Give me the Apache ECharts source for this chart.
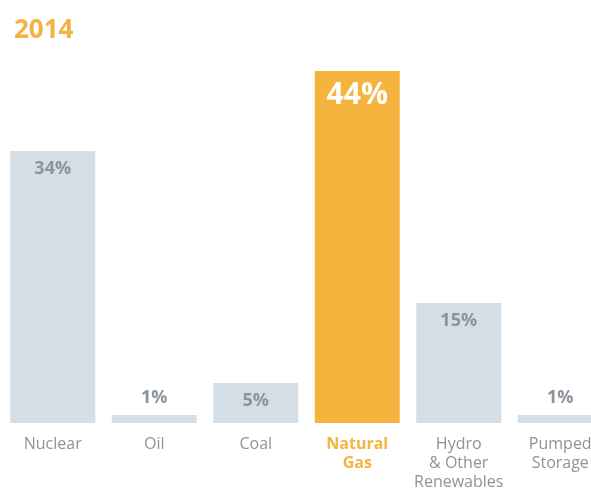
<!DOCTYPE html>
<html>
<head>
<meta charset="utf-8">
<script src="https://cdn.jsdelivr.net/npm/echarts@6/dist/echarts.min.js"></script>
<style>
  html, body { margin: 0; padding: 0; background: #ffffff; }
  #chart { width: 591px; height: 490px; }
</style>
</head>
<body>
<div id="chart"></div>
<script>
// Electricity generation mix, 2014 (share of total, %)
const categories = ['Nuclear', 'Oil', 'Coal', 'Natural\nGas', 'Hydro\n& Other\nRenewables', 'Pumped\nStorage'];
const shares = [34, 1, 5, 44, 15, 1];
const highlightIndex = 3;

const grey = '#d4dee6';
const orange = '#f5b43d';
const labelGrey = '#8b949c';

const chart = echarts.init(document.getElementById('chart'), null, { renderer: 'canvas' });

const data = shares.map((v, i) => {
  const hl = i === highlightIndex;
  const small = v < 3;
  return {
    value: v,
    itemStyle: { color: hl ? orange : grey },
    label: {
      show: true,
      position: small ? 'top' : 'insideTop',
      distance: small ? 8 : 9,
      formatter: '{c}%',
      color: hl ? '#ffffff' : labelGrey,
      fontSize: hl ? 30 : 18,
      fontWeight: 'bold',
      fontFamily: 'Open Sans'
    }
  };
});

chart.setOption({
  backgroundColor: '#ffffff',
  animation: false,
  title: {
    text: '2014',
    left: 9,
    top: 13,
    textStyle: { color: '#f2b244', fontSize: 26, fontWeight: 'bold', fontFamily: 'Open Sans' }
  },
  // the plot runs past the right edge so the last bar is cut off
  grid: { left: 2, width: 609, top: 23, bottom: 67, containLabel: false, outerBoundsMode: 'none' },
  xAxis: {
    type: 'category',
    data: categories,
    axisLine: { show: false },
    axisTick: { show: false },
    axisLabel: {
      interval: 0,
      margin: 12,
      fontSize: 16,
      lineHeight: 19,
      fontFamily: 'Open Sans',
      color: labelGrey,
      formatter: (val, idx) => idx === highlightIndex ? '{hl|' + val.split('\n').join('}\n{hl|') + '}' : val,
      rich: {
        hl: { color: orange, fontWeight: 'bold', fontSize: 16, lineHeight: 19, fontFamily: 'Open Sans' }
      }
    }
  },
  yAxis: {
    type: 'value',
    min: 0,
    max: 50,
    show: false,
    splitLine: { show: false }
  },
  series: [{
    type: 'bar',
    barWidth: 85,
    data: data
  }]
});
</script>
</body>
</html>
